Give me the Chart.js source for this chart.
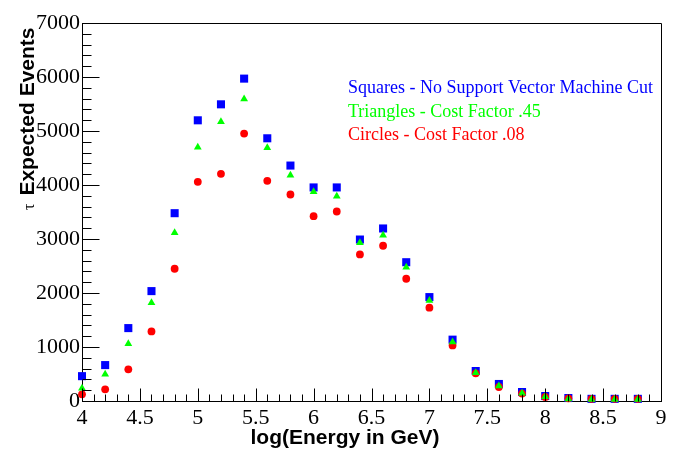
<!DOCTYPE html>
<html>
<head>
<meta charset="utf-8">
<script src="https://cdn.jsdelivr.net/npm/chart.js@4.4.1/dist/chart.umd.min.js"></script>
<style>
html,body{margin:0;padding:0;background:#fff;}
canvas{display:block;}
</style>
</head>
<body>
<canvas id="c" width="696" height="472"></canvas>
<script>
// ---- data ----
const logEnergy = [4.0,4.2,4.4,4.6,4.8,5.0,5.2,5.4,5.6,5.8,6.0,6.2,6.4,6.6,6.8,7.0,7.2,7.4,7.6,7.8,8.0,8.2,8.4,8.6,8.8];
const squaresNoCut = [460,665,1350,2035,3478,5198,5494,5970,4865,4360,3955,3955,2990,3195,2570,1924,1136,555,315,166,92,55,40,40,40];
const trianglesCost45 = [235,494,1062,1820,3115,4699,5169,5594,4688,4181,3874,3792,2930,3071,2479,1863,1091,525,277,142,81,35,30,30,30];
const circlesCost08 = [124,216,586,1289,2449,4059,4207,4952,4077,3824,3422,3509,2714,2875,2264,1728,1030,512,259,137,74,50,40,40,40];
const seriesLabels = [
  "Squares - No Support Vector Machine Cut",
  "Triangles - Cost Factor .45",
  "Circles - Cost Factor .08"
];
const xTitle = "log(Energy in GeV)";
const yTitleSymbol = "\u03c4";
const yTitle = "Expected Events";
const xMin = 4, xMax = 9, xMajor = 0.5, xMinor = 0.1;
const yMin = 0, yMax = 7000, yMajor = 1000, yMinor = 200;

const toPts = arr => arr.map((v, i) => ({x: logEnergy[i], y: v}));

const decorPlugin = {
  id: 'decor',
  afterDraw(chart) {
    const ctx = chart.ctx;
    const a = chart.chartArea;
    const xs = chart.scales.x, ys = chart.scales.y;
    ctx.save();
    ctx.strokeStyle = '#000';
    ctx.lineWidth = 1;
    // frame top & right
    ctx.beginPath();
    ctx.moveTo(Math.round(a.left) + 0.5, Math.round(a.top) + 0.5);
    ctx.lineTo(Math.round(a.right) + 0.5, Math.round(a.top) + 0.5);
    ctx.lineTo(Math.round(a.right) + 0.5, Math.round(a.bottom) + 0.5);
    ctx.stroke();
    // inward ticks, x axis
    ctx.beginPath();
    const yb = Math.round(a.bottom) + 0.5;
    for (let k = 0; k <= Math.round((xMax - xMin) / xMinor); k++) {
      const v = xMin + k * xMinor;
      const px = Math.round(xs.getPixelForValue(v)) + 0.5;
      const major = (k % Math.round(xMajor / xMinor)) === 0;
      const len = major ? 13 : 7;
      ctx.moveTo(px, yb);
      ctx.lineTo(px, yb - len);
    }
    // inward ticks, y axis
    const xl = Math.round(a.left) + 0.5;
    for (let k = 0; k <= Math.round((yMax - yMin) / yMinor); k++) {
      const v = yMin + k * yMinor;
      const py = Math.round(ys.getPixelForValue(v)) + 0.5;
      const major = (k % Math.round(yMajor / yMinor)) === 0;
      const len = major ? 17 : 9;
      ctx.moveTo(xl, py);
      ctx.lineTo(xl + len, py);
    }
    ctx.stroke();

    // legend text inside the plot
    ctx.textAlign = 'left';
    ctx.textBaseline = 'middle';
    ctx.font = '18px "Liberation Serif", "Times New Roman", serif';
    const rowY = [88, 112, 135];
    [0, 1, 2].forEach((di, r) => {
      const ds = chart.data.datasets[di];
      ctx.fillStyle = ds.backgroundColor;
      ctx.fillText(ds.label, 348, rowY[r]);
    });

    // x title
    ctx.fillStyle = '#000';
    ctx.font = 'bold 21px "Liberation Sans", Arial, sans-serif';
    ctx.textAlign = 'center';
    ctx.fillText(xTitle, 345, 438);

    // y title (rotated)
    ctx.translate(28, 210);
    ctx.rotate(-Math.PI / 2);
    ctx.textAlign = 'left';
    ctx.font = '16px "Liberation Serif", "Times New Roman", serif';
    ctx.fillText(yTitleSymbol, 0, 2);
    const w = ctx.measureText(yTitleSymbol + ' ').width;
    ctx.font = 'bold 21px "Liberation Sans", Arial, sans-serif';
    ctx.fillText(yTitle, w + 4, 0);
    ctx.restore();
  }
};

new Chart(document.getElementById('c'), {
  type: 'scatter',
  data: {
    datasets: [
      {label: seriesLabels[0], data: toPts(squaresNoCut), pointStyle: 'rect', radius: 5.7,
       backgroundColor: '#0000ff', borderColor: '#0000ff', borderWidth: 0, order: 3, clip: false},
      {label: seriesLabels[1], data: toPts(trianglesCost45), pointStyle: 'triangle', radius: 4.5,
       backgroundColor: '#00ff00', borderColor: '#00ff00', borderWidth: 0, order: 1, clip: false},
      {label: seriesLabels[2], data: toPts(circlesCost08), pointStyle: 'circle', radius: 3.9,
       backgroundColor: '#ff0000', borderColor: '#ff0000', borderWidth: 0, order: 2, clip: false}
    ]
  },
  options: {
    responsive: false,
    animation: false,
    events: [],
    layout: {padding: {top: 23, right: 35, left: 0, bottom: 0}},
    plugins: {legend: {display: false}, tooltip: {enabled: false}},
    scales: {
      x: {
        type: 'linear', min: xMin, max: xMax,
        afterFit(s) { s.height = 71; },
        grid: {display: true, drawOnChartArea: false, drawTicks: false},
        border: {display: true, color: '#000', width: 1},
        ticks: {stepSize: xMajor, color: '#000', padding: 4,
                callback: v => String(v),
                font: {family: '"Liberation Serif", "Times New Roman", serif', size: 22},
                maxRotation: 0, autoSkip: false}
      },
      y: {
        type: 'linear', min: yMin, max: yMax,
        afterFit(s) { s.width = 82; },
        grid: {display: true, drawOnChartArea: false, drawTicks: false},
        border: {display: true, color: '#000', width: 1},
        ticks: {stepSize: yMajor, color: '#000', padding: 2,
                callback: v => String(v),
                font: {family: '"Liberation Serif", "Times New Roman", serif', size: 22}}
      }
    }
  },
  plugins: [decorPlugin]
});
</script>
</body>
</html>
